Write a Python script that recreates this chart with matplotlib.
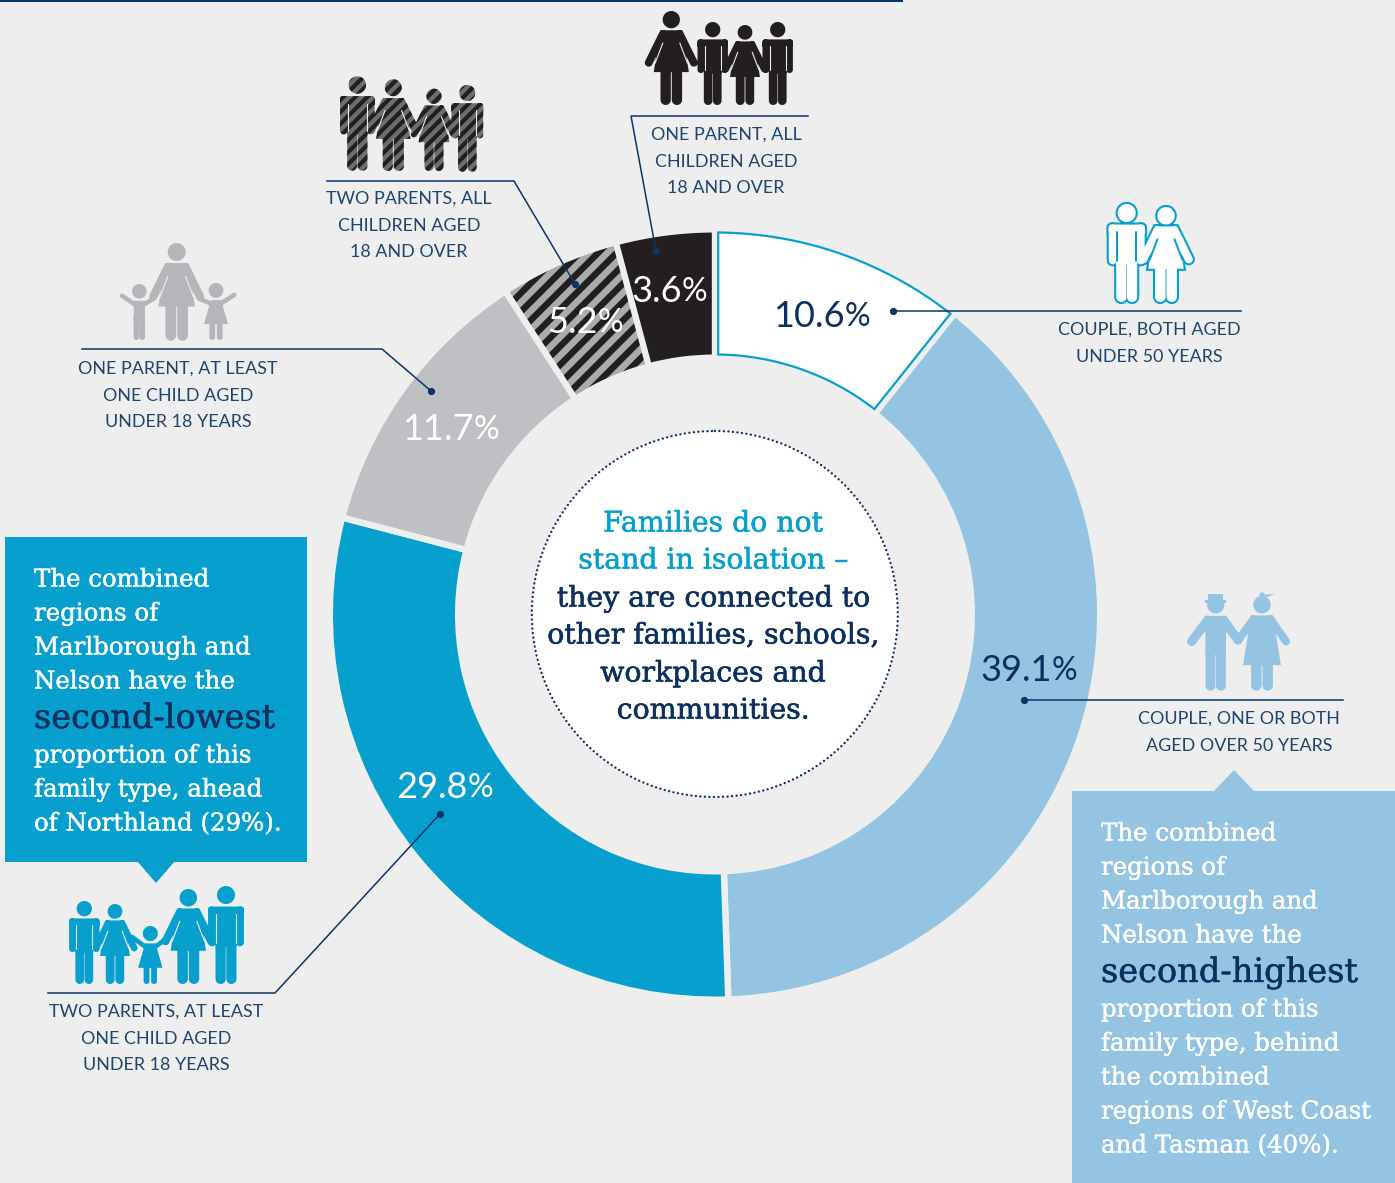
import numpy as np
import matplotlib
matplotlib.use("Agg")
from matplotlib import pyplot as plt
from matplotlib import patheffects as pe
from matplotlib.path import Path
from matplotlib.patches import PathPatch, Polygon, Circle, Rectangle
from matplotlib.collections import LineCollection

# Data
family_types = ["Couple under 50", "Couple over 50", "Two parents, child under 18",
                "One parent, child under 18", "Two parents, adult children", "One parent, adult children"]
shares = [10.6, 39.1, 29.8, 11.7, 5.2, 3.6]
# the arcs in the picture don't quite follow the printed figures, these are read off the arcs
drawn_arcs = [10.7, 38.75, 29.6, 11.8, 5.0, 4.15]
wedge_colours = ["#ffffff", "#94c4e1", "#079fcd", "#bfc0c3", "#a9abae", "#231f20"]
label_colours = ["#0b2f5e", "#0b2f5e", "#ffffff", "#ffffff", "#ffffff", "#ffffff"]
label_split_x = [845, 1052, 468, 474, 598, 682]
label_y = [316, 670, 787, 429, 322, 291]

caption_a = ["COUPLE, BOTH AGED", "UNDER 50 YEARS"]
caption_b = ["COUPLE, ONE OR BOTH", "AGED OVER 50 YEARS"]
caption_c = ["TWO PARENTS, AT LEAST", "ONE CHILD AGED", "UNDER 18 YEARS"]
caption_d = ["ONE PARENT, AT LEAST", "ONE CHILD AGED", "UNDER 18 YEARS"]
caption_e = ["TWO PARENTS, ALL", "CHILDREN AGED", "18 AND OVER"]
caption_f = ["ONE PARENT, ALL", "CHILDREN AGED", "18 AND OVER"]

centre_blue = ["Families do not", "stand in isolation \u2013"]
centre_navy = ["they are connected to", "other families, schools,", "workplaces and", "communities."]
box_left_top = ["The combined", "regions of", "Marlborough and", "Nelson have the"]
box_left_big = "second-lowest"
box_left_end = ["proportion of this", "family type, ahead", "of Northland (29%)."]
box_right_top = ["The combined", "regions of", "Marlborough and", "Nelson have the"]
box_right_big = "second-highest"
box_right_end = ["proportion of this", "family type, behind", "the combined", "regions of West Coast", "and Tasman (40%)."]

W, H = 1395, 1183
BG = "#eeeeee"
NAVY = "#0b2f5e"
CAPTION = "#1f4470"
BLUE = "#079fcd"
LIGHT = "#94c4e1"
SANS = "Lato"
SERIF = "DejaVu Serif"
cx, cy = 715, 614.5
r_out, r_in = 382, 260
gap = 3.2

fig = plt.figure(figsize=(W / 100, H / 100), dpi=100, facecolor=BG)

# donut, gaps come from the background coloured edge
pie_ax = fig.add_axes([0, 0, 1, 1])
pie_ax.pie(drawn_arcs, colors=wedge_colours, startangle=90, counterclock=False,
           center=(cx, H - cy), radius=r_out + gap,
           wedgeprops=dict(width=r_out - r_in + 2 * gap, edgecolor=BG, linewidth=2 * gap * 0.72))
pie_ax.set_xlim(0, W)
pie_ax.set_ylim(0, H)
pie_ax.axis("off")

ax = fig.add_axes([0, 0, 1, 1])
ax.set_xlim(0, W)
ax.set_ylim(H, 0)
ax.axis("off")
ax.patch.set_alpha(0)


def ring_points(i):
    # outline of wedge i in pixels, sides inset so the gap stays parallel
    total = sum(drawn_arcs)
    a0 = 2 * np.pi * sum(drawn_arcs[:i]) / total
    a1 = 2 * np.pi * sum(drawn_arcs[:i + 1]) / total
    pts = []
    for r, flip in ((r_out, False), (r_in, True)):
        d = np.arcsin(gap / r)
        t = np.linspace(a0 + d, a1 - d, 60)
        if flip:
            t = t[::-1]
        pts.append(np.column_stack([cx + r * np.sin(t), cy - r * np.cos(t)]))
    return np.vstack(pts)


def add_stripes(clip, x0, x1, y0, y1, step, width, colour, z):
    # diagonal stripes running up to the right, clipped to a patch
    span = (y1 - y0)
    segs = [[(s, y1), (s + span, y0)] for s in np.arange(x0 - span, x1 + step, step)]
    lc = LineCollection(segs, colors=colour, linewidths=width * 0.72, zorder=z)
    ax.add_collection(lc)
    lc.set_clip_path(clip)


def ccw(pts):
    pts = np.asarray(pts, float)
    x, y = pts[:, 0], pts[:, 1]
    if np.sum(x * np.roll(y, -1) - np.roll(x, -1) * y) < 0:
        pts = pts[::-1]
    return pts


def capsule(p0, p1, r):
    p0, p1 = np.array(p0, float), np.array(p1, float)
    a = np.arctan2(*(p1 - p0)[::-1])
    t = np.linspace(-np.pi / 2, np.pi / 2, 14)
    end1 = p1 + r * np.column_stack([np.cos(a + t), np.sin(a + t)])
    end0 = p0 + r * np.column_stack([np.cos(a + np.pi + t), np.sin(a + np.pi + t)])
    return np.vstack([end1, end0])


def disc(x, y, r):
    t = np.linspace(0, 2 * np.pi, 40)[:-1]
    return np.column_stack([x + r * np.cos(t), y + r * np.sin(t)])


def person(kind, x, top, h, arms=None, dress=None):
    # returns polygons and the thin separator lines of one figure
    def u(px, py):
        return (x + px * h, top + py * h)

    def poly(points):
        return np.array([u(*p) for p in points])

    polys, seps = [], []
    if kind == "man":
        polys.append(disc(*u(0, .092), .092 * h))
        if arms is None:
            polys.append(poly([(-.183, .225), (-.165, .21), (.165, .21), (.183, .225), (.183, .30),
                               (.105, .30), (.105, .62), (-.105, .62), (-.105, .30), (-.183, .30)]))
            for s in (-1, 1):
                polys.append(capsule(u(s * .143, .25), u(s * .143, .575), .04 * h))
                seps.append([u(s * .098, .29), u(s * .098, .58)])
        else:
            polys.append(poly([(-.115, .21), (.115, .21), (.105, .62), (-.105, .62)]))
            for s, end in zip((-1, 1), arms):
                polys.append(capsule(u(s * .085, .255), u(*end), .048 * h))
        for s in (-1, 1):
            polys.append(capsule(u(s * .055, .55), u(s * .055, .948), .052 * h))
    elif kind == "woman":
        polys.append(disc(*u(0, .092), .092 * h))
        low, half = dress if dress else (.65, .187)
        polys.append(poly([(-.115, .205), (.115, .205), (half, low), (-half, low)]))
        ends = arms if arms else [(-.24, .55), (.24, .55)]
        for s, end in zip((-1, 1), ends):
            polys.append(capsule(u(s * .09, .245), u(*end), .042 * h))
            if arms is None:
                seps.append([u(s * .09, .34), u(s * .172, .555)])
        for s in (-1, 1):
            polys.append(capsule(u(s * .06, .6), u(s * .06, .945), .055 * h))
    else:
        polys.append(disc(*u(0, .13), .13 * h))
        if kind == "boy":
            polys.append(poly([(-.1, .3), (.1, .3), (.1, .68), (-.1, .68)]))
            for s in (-1, 1):
                polys.append(capsule(u(s * .052, .6), u(s * .052, .95), .05 * h))
        else:
            polys.append(poly([(-.09, .3), (.09, .3), (.21, .72), (-.21, .72)]))
            for s in (-1, 1):
                polys.append(capsule(u(s * .065, .68), u(s * .065, .95), .05 * h))
        for s, end in zip((-1, 1), arms):
            polys.append(capsule(u(s * .07, .37), u(*end), .04 * h))
    return polys, seps


def compound(polys):
    verts, codes = [], []
    for p in polys:
        p = ccw(p)
        verts.extend(p.tolist() + [p[0].tolist()])
        codes.extend([Path.MOVETO] + [Path.LINETO] * (len(p) - 1) + [Path.CLOSEPOLY])
    return Path(verts, codes)


def draw_icon(people, colour, sep_colour=BG, sep_w=1.1, outline=None, stripes=None, extra=None):
    polys, seps = [], []
    for item in people:
        a, b = person(*item[0], **item[1])
        polys += a
        seps += b
    if extra:
        polys += extra
    path = compound(polys)
    if outline:
        ax.add_patch(PathPatch(path, fc=outline, ec=outline, lw=3.0, zorder=4))
    base = PathPatch(path, fc=colour, ec="none", zorder=4)
    ax.add_patch(base)
    if stripes:
        box = path.get_extents()
        add_stripes(base, box.x0, box.x1, box.y0, box.y1, stripes[0], stripes[1], stripes[2], 4.5)
    if seps:
        ax.add_collection(LineCollection(seps, colors=sep_colour, linewidths=sep_w * 0.72,
                                         capstyle="round", zorder=5))


def lines_of_text(x, ys, lines, bold=0, **kw):
    for y, line in zip(ys, lines):
        t = ax.text(x, y, line, va="center", **kw)
        if bold:
            t.set_path_effects([pe.withStroke(linewidth=bold, foreground=kw["color"])])


# top rule
ax.add_patch(Rectangle((0, 0), 903, 2, fc="#0b3566", ec="none"))

# white wedge with its blue outline, striped wedge
ax.add_patch(Polygon(ring_points(0), closed=True, fc="#ffffff", ec=BLUE, lw=1.6, zorder=2))
stripe_patch = Polygon(ring_points(4), closed=True, fc=wedge_colours[4], ec="none", zorder=2)
ax.add_patch(stripe_patch)
add_stripes(stripe_patch, 500, 660, 240, 400, 18.5, 6.5, "#231f20", 2.5)

# centre circle
ax.add_patch(Circle((714.8, 614), 183, fc="#ffffff", ec=NAVY, lw=1.7, ls=(0, (0.02, 1.9)),
                    capstyle="round", zorder=2))
lines_of_text(713, [524, 561], centre_blue, bold=0.4, ha="center", family=SERIF, fontsize=20.4, color=BLUE, zorder=6)
lines_of_text(713, [599, 636, 674, 711], centre_navy, bold=0.4, ha="center", family=SERIF, fontsize=20.4, color=NAVY, zorder=6)

# percentage labels
for v, c, sx, sy in zip(shares, label_colours, label_split_x, label_y):
    ax.text(sx, sy, f"{v}", ha="right", va="center", family=SANS, fontsize=26, color=c, zorder=6)
    ax.text(sx, sy + 1, "%", ha="left", va="center", family=SANS, fontsize=23, color=c, zorder=6)

# leader lines
leaders = [
    [(893, 311), (1241, 311)],
    [(1024, 700), (1343, 700)],
    [(440, 814), (275, 993), (48, 993)],
    [(431, 391), (382, 349), (82, 349)],
    [(575, 284), (514, 181), (327, 181)],
    [(656, 251), (631, 116), (808, 116)],
]
for pts in leaders:
    xs, ys = zip(*pts)
    ax.plot(xs, ys, color="#0b3566", lw=1.1, zorder=5, solid_joinstyle="miter")
    ax.plot(xs[0], ys[0], "o", color="#0b3566", ms=4.2, zorder=5)

# captions
cap = dict(ha="center", family=SANS, fontsize=12.9, color=CAPTION, zorder=6)
lines_of_text(1149, [330, 357], caption_a, **cap)
lines_of_text(1239, [719, 746], caption_b, **cap)
lines_of_text(156, [1012, 1039, 1065], caption_c, **cap)
lines_of_text(178, [369, 396, 422], caption_d, **cap)
lines_of_text(409, [199, 226, 252], caption_e, **cap)
lines_of_text(726, [135, 162, 188], caption_f, **cap)

# left box
ax.add_patch(Rectangle((5, 537), 302, 325, fc=BLUE, ec="none", zorder=3))
ax.add_patch(Polygon([(137, 861), (175, 861), (156, 883)], fc=BLUE, ec="none", zorder=3))
box = dict(ha="left", family=SERIF, fontsize=17.6, color="#ffffff", zorder=6)
lines_of_text(34, [580, 614, 648, 682], box_left_top, bold=0.3, **box)
lines_of_text(34, [719], [box_left_big], bold=0.3, ha="left", family=SERIF, fontsize=24.2, color=NAVY, zorder=6)
lines_of_text(34, [756, 790, 824], box_left_end, bold=0.3, **box)

# right box
ax.add_patch(Rectangle((1072, 791), 323, 392, fc=LIGHT, ec="none", zorder=3))
ax.add_patch(Polygon([(1213, 792), (1255, 792), (1234, 770)], fc=LIGHT, ec="none", zorder=3))
lines_of_text(1101, [834, 868, 902, 936], box_right_top, bold=0.3, **box)
lines_of_text(1101, [973], [box_right_big], bold=0.3, ha="left", family=SERIF, fontsize=24.2, color=NAVY, zorder=6)
lines_of_text(1101, [1010, 1044, 1078, 1112, 1146], box_right_end, bold=0.3, **box)

# people icons
draw_icon([(("woman", 671.3, 11, 94), {}), (("man", 712.7, 22, 83), {}),
           (("woman", 745, 25, 80), {}), (("man", 777.7, 22, 83), {})], "#231f20")
draw_icon([(("man", 357.3, 76.3, 94.4), {}), (("woman", 393.3, 79.3, 91.7), {}),
           (("woman", 434, 88.7, 82.3), {}), (("man", 467.3, 85, 86.7), {})],
          "#6d6e71", stripes=(12, 4.2, "#231f20"))
draw_icon([(("man", 1126.7, 204, 98), {}), (("woman", 1166, 207, 95), {})], "#ffffff",
          sep_colour=BLUE, sep_w=2, outline=BLUE)
hat = [np.array([(1205, 600), (1226, 600), (1226, 603), (1205, 603)], float),
       np.array([(1208, 594), (1223, 594), (1223, 601), (1208, 601)], float),
       disc(1262, 595, 2.6),
       np.array([(1262, 595), (1275, 594), (1267, 597)], float)]
draw_icon([(("man", 1215.7, 596, 94.7), {"arms": [(-.254, .48), (.235, .465)]}),
           (("woman", 1262, 596, 94.7), {"arms": [(-.25, .465), (.254, .48)], "dress": (.73, .2)})],
          LIGHT, extra=hat)
draw_icon([(("man", 84.3, 901, 83), {}), (("woman", 115, 904, 80), {}),
           (("girl", 150.3, 926, 58), {"arms": [(-.315, .19), (.315, .19)]}),
           (("woman", 188.3, 889, 95), {}), (("man", 226, 886, 98), {})], BLUE)
draw_icon([(("woman", 176.7, 243, 97.7), {}),
           (("boy", 139.3, 284, 56), {"arms": [(-.31, .21), (.245, .27)]}),
           (("girl", 216, 283, 57), {"arms": [(-.28, .28), (.32, .21)]})], "#b5b6b9")

fig.savefig("out.png", dpi=100, facecolor=BG)
